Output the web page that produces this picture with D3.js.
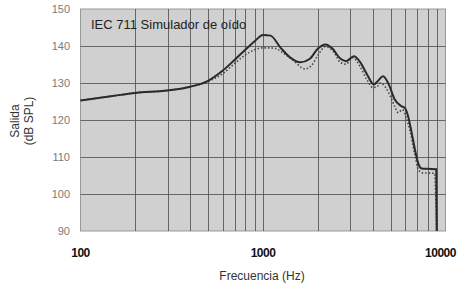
<!DOCTYPE html>
<html>
<head>
<meta charset="utf-8">
<script src="https://cdn.jsdelivr.net/npm/d3@7"></script>
<style>
  body { margin: 0; background: #fff; }
  svg { display: block; font-family: "Liberation Sans", Arial, sans-serif; }
</style>
</head>
<body>
<div id="chart"></div>
<script>
// frequency response, solid = measured, dotted = second series
var solidFreq = [100, 150, 200, 300, 400, 500, 600, 700, 800, 900, 1000, 1100, 1250, 1400, 1600, 1800, 2000, 2200, 2400, 2650, 2850, 3150, 3400, 3700, 4050, 4250, 4550, 4900, 5250, 5700, 6000, 6200, 6500, 6800, 7100, 7400, 8000, 8900, 8950];
var solidDb = [125.3, 126.5, 127.3, 128.0, 129.0, 130.6, 133.3, 136.3, 139.0, 141.3, 143.0, 142.8, 139.5, 137.0, 135.6, 136.5, 139.3, 140.4, 139.3, 136.6, 135.9, 137.2, 135.7, 132.5, 129.6, 130.5, 131.8, 129.5, 125.7, 123.8, 123.2, 121.5, 117.0, 112.0, 108.2, 106.9, 106.8, 106.7, 90];

var dotFreq = [100, 150, 200, 300, 400, 500, 600, 700, 800, 900, 1000, 1150, 1300, 1450, 1700, 1850, 2000, 2200, 2450, 2650, 2850, 3100, 3400, 3700, 4000, 4200, 4400, 4700, 5000, 5300, 5500, 5800, 6100, 6400, 6800, 7100, 7500, 8700, 8950];
var dotDb = [125.3, 126.5, 127.3, 128.0, 129.0, 130.4, 132.5, 135.3, 137.6, 139.0, 139.5, 139.4, 138.0, 136.3, 133.8, 134.8, 137.5, 139.8, 138.3, 135.6, 135.1, 136.8, 134.5, 131.0, 128.8, 128.9, 130.0, 128.8, 126.3, 123.4, 122.0, 122.8, 120.5, 117.0, 110.5, 106.6, 105.7, 105.6, 90];

var yTicks = [90, 100, 110, 120, 130, 140, 150];
var xLabels = [100, 1000, 10000];

var width = 465, height = 285;
var margin = {left: 80.5, right: 445.5, top: 9, bottom: 231};

var svg = d3.select("#chart").append("svg")
    .attr("width", width)
    .attr("height", height);

var x = d3.scaleLog().domain([100, 10000]).range([margin.left, margin.right]);
var y = d3.scaleLinear().domain([90, 150]).range([margin.bottom, margin.top]);

// plot background
svg.append("rect")
    .attr("x", margin.left).attr("y", margin.top)
    .attr("width", margin.right - margin.left).attr("height", margin.bottom - margin.top)
    .attr("fill", "#d0d0d0")
    .attr("stroke", "#9a9a9a")
    .attr("stroke-width", 1);

// vertical gridlines at every 1-2-3..9 step
var gridFreq = [];
[100, 1000].forEach(function (dec) {
    for (var k = 1; k <= 9; k++) gridFreq.push(dec * k);
});
gridFreq = gridFreq.filter(function (f) { return f > 100; });

svg.append("g")
    .selectAll("line")
    .data(gridFreq)
    .enter()
    .append("line")
    .attr("x1", function (d) { return Math.round(x(d)) + 0.5; })
    .attr("x2", function (d) { return Math.round(x(d)) + 0.5; })
    .attr("y1", margin.top)
    .attr("y2", margin.bottom)
    .attr("stroke", "#555")
    .attr("stroke-opacity", 0.85)
    .attr("stroke-width", 1);

svg.append("g")
    .selectAll("line")
    .data(yTicks.filter(function (d) { return d > 90 && d < 150; }))
    .enter()
    .append("line")
    .attr("x1", margin.left)
    .attr("x2", margin.right)
    .attr("y1", function (d) { return Math.round(y(d)) + 0.5; })
    .attr("y2", function (d) { return Math.round(y(d)) + 0.5; })
    .attr("stroke", "#555")
    .attr("stroke-opacity", 0.85)
    .attr("stroke-width", 1);

// y tick labels
svg.append("g")
    .selectAll("text")
    .data(yTicks)
    .enter()
    .append("text")
    .attr("x", 70)
    .attr("y", function (d) { return y(d) + 4; })
    .attr("text-anchor", "end")
    .attr("font-size", "11px")
    .attr("fill", "#7a7a7a")
    .text(function (d) { return d; });

// x tick labels
svg.append("g")
    .selectAll("text")
    .data(xLabels)
    .enter()
    .append("text")
    .attr("x", function (d) { return d === 10000 ? x(d) - 5 : x(d); })
    .attr("y", 257)
    .attr("text-anchor", "middle")
    .attr("font-size", "12px")
    .attr("font-weight", "bold")
    .attr("letter-spacing", "-0.5px")
    .attr("fill", "#111")
    .text(function (d) { return d; });

// axis titles
svg.append("text")
    .attr("x", 262)
    .attr("y", 280)
    .attr("text-anchor", "middle")
    .attr("font-size", "12px")
    .attr("fill", "#333")
    .text("Frecuencia (Hz)");

svg.append("text")
    .attr("transform", "translate(19,121) rotate(-90)")
    .attr("text-anchor", "middle")
    .attr("font-size", "12px")
    .attr("fill", "#333")
    .text("Salida");

svg.append("text")
    .attr("transform", "translate(33,121) rotate(-90)")
    .attr("text-anchor", "middle")
    .attr("font-size", "12px")
    .attr("fill", "#333")
    .text("(dB SPL)");

// annotation
svg.append("text")
    .attr("x", 91)
    .attr("y", 29)
    .attr("font-size", "13px")
    .attr("fill", "#222")
    .text("IEC 711 Simulador de oído");

// curves
var line = d3.line()
    .x(function (d) { return x(d[0]); })
    .y(function (d) { return y(d[1]); })
    .curve(d3.curveMonotoneX);

svg.append("path")
    .datum(d3.zip(dotFreq, dotDb))
    .attr("d", line)
    .attr("fill", "none")
    .attr("stroke", "#444")
    .attr("stroke-width", 1.6)
    .attr("stroke-dasharray", "1.5,2");

svg.append("path")
    .datum(d3.zip(solidFreq, solidDb))
    .attr("d", line)
    .attr("fill", "none")
    .attr("stroke", "#2a2a2a")
    .attr("stroke-width", 2);
</script>
</body>
</html>
